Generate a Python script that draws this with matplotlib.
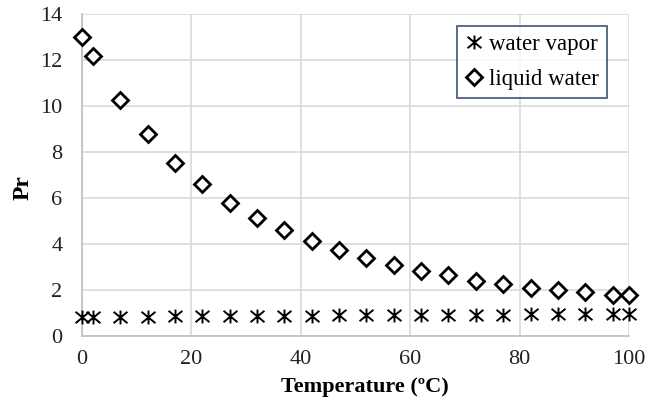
import matplotlib
matplotlib.use("Agg")
import matplotlib.pyplot as plt
from matplotlib.path import Path

temps = [0, 2, 7, 12, 17, 22, 27, 32, 37, 42, 47, 52, 57, 62, 67, 72, 77, 82, 87, 92, 97, 100]
pr_liquid = [13.0, 12.2, 10.25, 8.8, 7.55, 6.6, 5.8, 5.15, 4.6, 4.15, 3.75, 3.4, 3.1, 2.85,
             2.65, 2.4, 2.25, 2.1, 2.0, 1.9, 1.81, 1.78]
pr_vapor = [0.84, 0.84, 0.85, 0.85, 0.86, 0.87, 0.87, 0.88, 0.88, 0.89, 0.90, 0.90, 0.91, 0.92,
            0.92, 0.93, 0.94, 0.95, 0.96, 0.96, 0.97, 0.98]
xticks = [0, 20, 40, 60, 80, 100]
yticks = [0, 2, 4, 6, 8, 10, 12, 14]

plt.rcParams['font.family'] = ['Liberation Serif', 'DejaVu Serif']

# Excel-style star marker: X plus vertical bar
star = Path([(-0.55, -0.45), (0.55, 0.45), (-0.55, 0.45), (0.55, -0.45), (0, -0.55), (0, 0.55)],
            [Path.MOVETO, Path.LINETO, Path.MOVETO, Path.LINETO, Path.MOVETO, Path.LINETO])

fig = plt.figure(figsize=(6.59, 4.05), dpi=100)
ax = fig.add_axes([0.1244, 0.170, 0.8301, 0.795])

ax.plot(temps, pr_vapor, linestyle='none', marker=star, markersize=10,
        markeredgecolor='black', markeredgewidth=1.4, label='water vapor', clip_on=False, zorder=3)
ax.plot(temps, pr_liquid, linestyle='none', marker='D', markersize=8,
        markerfacecolor='white', markeredgecolor='black', markeredgewidth=2,
        label='liquid water', clip_on=False, zorder=3)

ax.set_xlim(0, 100)
ax.set_ylim(0, 14)
ax.set_xticks(xticks)
ax.set_yticks(yticks)
ax.grid(True, color='#d9d9d9', linewidth=1.2)
ax.set_axisbelow(True)
for s in ['top', 'right']:
    ax.spines[s].set_visible(False)
for s in ['left', 'bottom']:
    ax.spines[s].set_color('#bfbfbf')
    ax.spines[s].set_linewidth(1.2)
ax.tick_params(length=0, labelsize=16, colors='#404040')
ax.tick_params(axis='x', pad=10)
ax.tick_params(axis='y', pad=14)
for lab in ax.get_xticklabels() + ax.get_yticklabels():
    lab.set_color('#222222')

ax.set_xlabel('Temperature (ºC)', fontsize=16, fontweight='bold')
ax.xaxis.set_label_coords(0.517, -0.127)
ax.set_ylabel('Pr', fontsize=17, fontweight='bold')
ax.yaxis.set_label_coords(-0.088, 0.46)

leg = ax.legend(loc='upper right', bbox_to_anchor=(0.960, 0.962), fontsize=16.5,
                frameon=True, fancybox=False, edgecolor='#1f3864', handlelength=0.8,
                handletextpad=0.25, borderpad=0.35, labelspacing=0.58, borderaxespad=0)
leg.get_frame().set_linewidth(1.3)

fig.savefig('out.png', dpi=100)
